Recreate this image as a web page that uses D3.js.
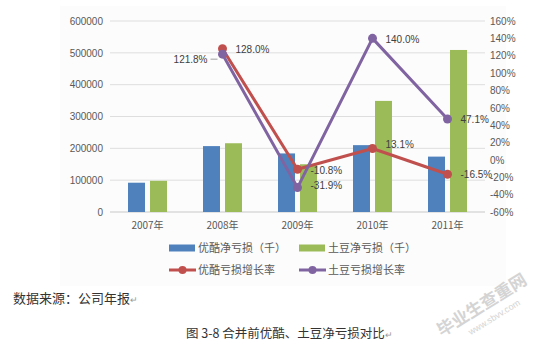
<!DOCTYPE html>
<html><head><meta charset="utf-8">
<script src="https://cdn.jsdelivr.net/npm/d3@7"></script>
<style>body{margin:0;background:#fff}svg{display:block}</style>
</head><body>
<script>
const years = ["2007年","2008年","2009年","2010年","2011年"];
const youkuLoss = [92000, 207000, 184000, 210000, 174000];
const tudouLoss = [98000, 216000, 150000, 349000, 509000];
const youkuRate = [null, 1.280, -0.108, 0.131, -0.165];
const tudouRate = [null, 1.218, -0.319, 1.400, 0.471];
const leftTicks = [0,100000,200000,300000,400000,500000,600000];
const rightTicks = [-0.6,-0.4,-0.2,0,0.2,0.4,0.6,0.8,1.0,1.2,1.4,1.6];
const legendNames = ["优酷净亏损（千）","土豆净亏损（千）","优酷亏损增长率","土豆亏损增长率"];

const W=546,H=352;
const svg=d3.select("body").append("svg").attr("width",W).attr("height",H);
const font="'Liberation Sans','DejaVu Sans','Noto Sans CJK SC',sans-serif";
const cjk="'Noto Sans CJK SC',sans-serif";
const C={blue:"#4f81bd",green:"#9bbb59",red:"#c0504d",purple:"#8064a2",txt:"#595959"};

svg.append("rect").attr("x",60).attr("y",6).attr("width",446).attr("height",280).attr("fill","#fcfcfc");

const x=d3.scaleBand().domain(years).range([110,485]);
const yL=d3.scaleLinear().domain([0,600000]).range([212,21]);
const yR=d3.scaleLinear().domain([-0.6,1.6]).range([212,21]);

// gridlines
svg.append("g").selectAll("line").data(leftTicks).join("line")
  .attr("x1",110).attr("x2",485).attr("y1",d=>yL(d)).attr("y2",d=>yL(d))
  .attr("stroke",d=>d===0?"#c8c8c8":"#dedede").attr("stroke-width",1);

// left axis
const gl=svg.append("g").attr("transform","translate(110,0)")
  .call(d3.axisLeft(yL).tickValues(leftTicks).tickSize(0).tickPadding(7).tickFormat(d3.format("d")));
gl.select(".domain").remove();
gl.selectAll("text").attr("font-family",font).attr("font-size",10).attr("fill",C.txt);

// right axis
const gr=svg.append("g").attr("transform","translate(485,0)")
  .call(d3.axisRight(yR).tickValues(rightTicks).tickSize(0).tickPadding(5).tickFormat(d=>Math.round(d*100)+"%"));
gr.select(".domain").remove();
gr.selectAll("text").attr("font-family",font).attr("font-size",10).attr("fill",C.txt);

// bottom axis
const gb=svg.append("g").attr("transform","translate(0,212)")
  .call(d3.axisBottom(x).tickSize(0).tickPadding(10));
gb.select(".domain").remove();
gb.selectAll("text").attr("font-family",cjk).attr("font-size",10).attr("fill",C.txt);

const bw=17, gap=2.5;
const cx=d=>x(d)+x.bandwidth()/2;
svg.append("g").selectAll("rect").data(years).join("rect")
  .attr("x",(d)=>cx(d)-gap-bw).attr("width",bw)
  .attr("y",(d,i)=>yL(youkuLoss[i])).attr("height",(d,i)=>yL(0)-yL(youkuLoss[i])).attr("fill",C.blue);
svg.append("g").selectAll("rect").data(years).join("rect")
  .attr("x",(d)=>cx(d)+gap).attr("width",bw)
  .attr("y",(d,i)=>yL(tudouLoss[i])).attr("height",(d,i)=>yL(0)-yL(tudouLoss[i])).attr("fill",C.green);

function drawLine(vals,color){
  const pts=years.map((d,i)=>({x:cx(d),v:vals[i]})).filter(p=>p.v!==null);
  svg.append("path").datum(pts).attr("fill","none").attr("stroke",color).attr("stroke-width",3)
    .attr("stroke-linejoin","round")
    .attr("d",d3.line().x(p=>p.x).y(p=>yR(p.v)));
  svg.append("g").selectAll("circle").data(pts).join("circle")
    .attr("cx",p=>p.x).attr("cy",p=>yR(p.v)).attr("r",4.5).attr("fill",color);
}
drawLine(youkuRate,C.red);
drawLine(tudouRate,C.purple);

// data labels
const fmt=v=>(v*100).toFixed(1)+"%";
const labels=[
  {s:youkuRate,i:1,dx:13,dy:4,a:"start"},
  {s:tudouRate,i:1,dx:-15,dy:9,a:"end"},
  {s:youkuRate,i:2,dx:13,dy:5,a:"start"},
  {s:tudouRate,i:2,dx:13,dy:1,a:"start"},
  {s:youkuRate,i:3,dx:13,dy:-1,a:"start"},
  {s:tudouRate,i:3,dx:13,dy:5,a:"start"},
  {s:tudouRate,i:4,dx:13,dy:4,a:"start"},
  {s:youkuRate,i:4,dx:13,dy:4,a:"start"}
];
svg.append("g").selectAll("text").data(labels).join("text")
  .attr("x",d=>cx(years[d.i])+d.dx).attr("y",d=>yR(d.s[d.i])+d.dy)
  .attr("text-anchor",d=>d.a).attr("font-family",font).attr("font-size",10).attr("fill","#404040")
  .text(d=>fmt(d.s[d.i]));
// leader line for 121.8%
svg.append("line").attr("x1",cx(years[1])-12).attr("x2",cx(years[1])-5)
  .attr("y1",yR(tudouRate[1])+5).attr("y2",yR(tudouRate[1])+5).attr("stroke","#a0a0a0");

// legend
const lg=svg.append("g");
const lx=[169,299], ly=[248,270];
lg.append("rect").attr("x",lx[0]).attr("y",ly[0]-3.5).attr("width",26).attr("height",7).attr("fill",C.blue);
lg.append("rect").attr("x",lx[1]).attr("y",ly[0]-3.5).attr("width",26).attr("height",7).attr("fill",C.green);
[[lx[0],C.red],[lx[1],C.purple]].forEach(([xx,c])=>{
  lg.append("line").attr("x1",xx).attr("x2",xx+27).attr("y1",ly[1]).attr("y2",ly[1]).attr("stroke",c).attr("stroke-width",3);
  lg.append("circle").attr("cx",xx+13.5).attr("cy",ly[1]).attr("r",4).attr("fill",c);
});
[[lx[0]+29,ly[0]],[lx[1]+29,ly[0]],[lx[0]+29,ly[1]],[lx[1]+29,ly[1]]].forEach(([xx,yy],i)=>{
  lg.append("text").attr("x",xx).attr("y",yy+4).attr("font-family",cjk).attr("font-size",11)
    .attr("fill",C.txt).text(legendNames[i]);
});

// source & caption
svg.append("text").attr("x",13).attr("y",303).attr("font-family",cjk).attr("font-size",13).attr("fill","#333")
  .text("数据来源：公司年报").append("tspan").attr("fill","#999").attr("font-size",9).text("↵");
svg.append("text").attr("x",186).attr("y",338).attr("font-family",cjk).attr("font-size",12.5).attr("fill","#333")
  .text("图 3-8 合并前优酷、土豆净亏损对比").append("tspan").attr("fill","#999").attr("font-size",9).text("↵");

// watermark
const wm=svg.append("g").attr("transform","translate(485,310) rotate(-32)").attr("fill","#d4d4d4");
wm.append("text").attr("x",0).attr("y",0).attr("text-anchor","middle").attr("font-family",cjk)
  .attr("font-weight","bold").attr("font-size",17).text("毕业生查重网");
wm.append("text").attr("x",4).attr("y",14).attr("text-anchor","middle").attr("font-family",font)
  .attr("font-size",9).text("www.sbvv.com");
</script>
</body></html>
